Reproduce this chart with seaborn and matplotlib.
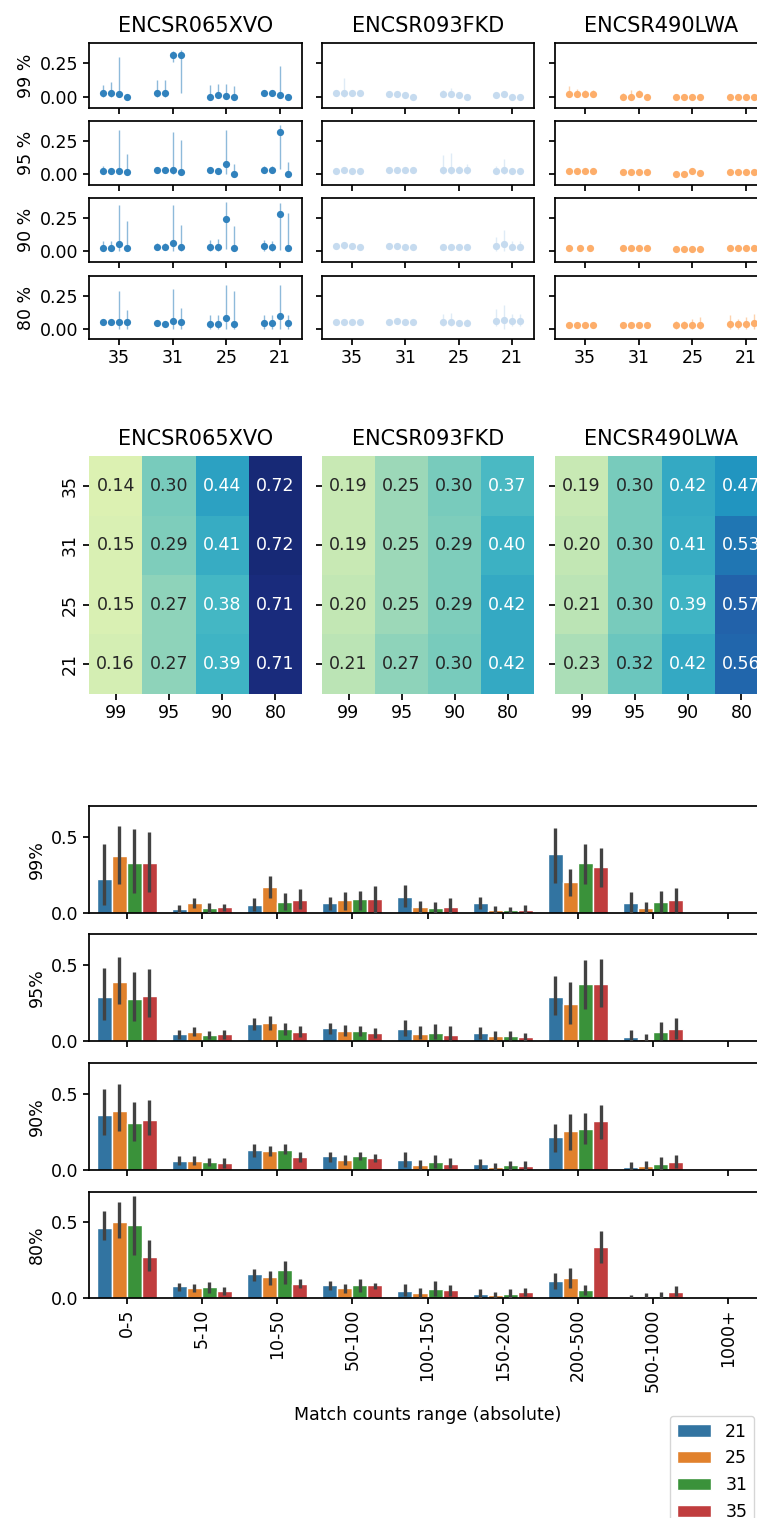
import numpy as np
import pandas as pd
import matplotlib
matplotlib.use("Agg")
import matplotlib.pyplot as plt
import seaborn as sns

W, H = 757, 1518

datasets = ["ENCSR065XVO", "ENCSR093FKD", "ENCSR490LWA"]
ds_colors = ["#3182bd", "#c6dbef", "#fdae6b"]
kmers = ["35", "31", "25", "21"]
percents = ["99", "95", "90", "80"]
nan = np.nan

# ---- top: per percent row -> per kmer group -> 4 replicate points
pts_065 = [
    [[0.03, 0.03, 0.02, 0.003], [0.03, 0.03, 0.31, 0.31], [0.0, 0.018, 0.008, 0.003], [0.033, 0.03, 0.018, 0.003]],
    [[0.028, 0.028, 0.028, 0.015], [0.03, 0.03, 0.03, 0.015], [0.03, 0.028, 0.08, 0.005], [0.035, 0.033, 0.315, 0.005]],
    [[0.028, 0.028, 0.055, 0.028], [0.03, 0.03, 0.06, 0.03], [0.033, 0.033, 0.24, 0.023], [0.04, 0.035, 0.283, 0.028]],
    [[0.048, 0.048, 0.053, 0.053], [0.04, 0.035, 0.06, 0.048], [0.035, 0.035, 0.08, 0.035], [0.043, 0.04, 0.098, 0.04]],
]
hi_065 = [
    [[0.088, 0.11, 0.30, 0.01], [0.13, 0.125, 0.34, 0.35], [0.088, 0.10, 0.10, 0.08], [0.05, 0.045, 0.23, 0.01]],
    [[0.06, 0.05, 0.33, 0.15], [0.05, 0.05, 0.32, 0.26], [0.05, 0.05, 0.335, 0.078], [0.06, 0.06, 0.37, 0.09]],
    [[0.075, 0.075, 0.345, 0.225], [0.062, 0.062, 0.35, 0.195], [0.088, 0.095, 0.37, 0.19], [0.083, 0.078, 0.36, 0.29]],
    [[0.06, 0.06, 0.285, 0.14], [0.06, 0.06, 0.30, 0.16], [0.10, 0.10, 0.335, 0.285], [0.105, 0.10, 0.335, 0.10]],
]
lo_065 = [
    [[0.0, 0.0, 0.0, 0.0], [0.0, 0.0, 0.26, 0.03], [0.0, 0.0, 0.0, 0.0], [0.01, 0.01, 0.0, 0.0]],
    [[0.0, 0.01, 0.0, 0.0], [0.01, 0.01, 0.0, 0.0], [0.01, 0.01, 0.0, 0.0], [0.01, 0.01, 0.04, 0.0]],
    [[0.0, 0.0, 0.0, 0.0], [0.01, 0.01, 0.0, 0.0], [0.0, 0.0, 0.02, 0.0], [0.0, 0.0, 0.01, 0.0]],
    [[0.03, 0.03, 0.0, 0.0], [0.02, 0.02, 0.0, 0.0], [0.0, 0.0, 0.0, 0.0], [0.0, 0.0, 0.0, 0.0]],
]

pts_093 = [
    [[0.03, 0.03, 0.03, 0.03], [0.02, 0.02, 0.018, 0.0], [0.025, 0.025, 0.018, 0.0], [0.013, 0.02, 0.0, 0.0]],
    [[0.028, 0.033, 0.028, 0.028], [0.03, 0.03, 0.03, 0.03], [0.035, 0.035, 0.033, 0.033], [0.028, 0.035, 0.028, 0.028]],
    [[0.04, 0.045, 0.038, 0.035], [0.038, 0.04, 0.033, 0.033], [0.033, 0.033, 0.03, 0.033], [0.04, 0.055, 0.033, 0.033]],
    [[0.053, 0.053, 0.053, 0.053], [0.053, 0.055, 0.048, 0.048], [0.048, 0.053, 0.04, 0.04], [0.06, 0.065, 0.055, 0.055]],
]
hi_093 = [
    [[0.05, 0.14, 0.05, 0.04], [0.04, 0.04, 0.03, 0.01], [0.05, 0.07, 0.03, 0.01], [0.03, 0.04, 0.01, 0.01]],
    [[0.05, 0.05, 0.04, 0.04], [0.05, 0.05, 0.04, 0.04], [0.145, 0.16, 0.065, 0.08], [0.06, 0.115, 0.04, 0.04]],
    [[0.06, 0.06, 0.05, 0.05], [0.06, 0.065, 0.05, 0.05], [0.05, 0.05, 0.045, 0.05], [0.11, 0.16, 0.08, 0.08]],
    [[0.065, 0.065, 0.065, 0.065], [0.065, 0.07, 0.06, 0.06], [0.11, 0.12, 0.06, 0.07], [0.15, 0.18, 0.11, 0.11]],
]
lo_093 = [
    [[0.01, 0.0, 0.01, 0.02], [0.0, 0.0, 0.0, 0.0], [0.0, 0.0, 0.0, 0.0], [0.0, 0.0, 0.0, 0.0]],
    [[0.01, 0.01, 0.01, 0.01], [0.01, 0.01, 0.01, 0.01], [0.0, 0.0, 0.01, 0.0], [0.01, 0.0, 0.01, 0.01]],
    [[0.02, 0.02, 0.02, 0.02], [0.02, 0.02, 0.02, 0.02], [0.02, 0.02, 0.02, 0.02], [0.0, 0.0, 0.01, 0.01]],
    [[0.04, 0.04, 0.04, 0.04], [0.04, 0.04, 0.03, 0.03], [0.02, 0.02, 0.02, 0.02], [0.02, 0.0, 0.02, 0.02]],
]

pts_490 = [
    [[0.025, 0.025, 0.02, 0.02], [0.0, 0.003, 0.02, 0.0], [0.0, 0.0, 0.0, 0.0], [0.0, 0.0, 0.0, 0.0]],
    [[0.023, 0.023, 0.023, 0.023], [0.02, 0.02, 0.02, 0.02], [0.0, 0.0, 0.028, 0.013], [0.015, 0.015, 0.02, 0.02]],
    [[0.028, 0.028, 0.028, nan], [0.028, 0.028, 0.028, 0.028], [0.015, 0.015, 0.02, 0.02], [0.028, 0.028, 0.028, 0.028]],
    [[0.028, 0.028, 0.028, 0.028], [0.03, 0.03, 0.03, 0.03], [0.03, 0.03, 0.03, 0.03], [0.035, 0.035, 0.035, 0.04]],
]
hi_490 = [
    [[0.08, 0.06, 0.05, 0.05], [0.03, 0.05, 0.05, 0.02], [0.01, 0.01, 0.01, 0.01], [0.01, 0.01, 0.01, 0.01]],
    [[0.04, 0.04, 0.04, 0.04], [0.035, 0.035, 0.035, 0.035], [0.01, 0.01, 0.045, 0.03], [0.03, 0.03, 0.035, 0.035]],
    [[0.04, 0.04, 0.04, nan], [0.045, 0.045, 0.045, 0.045], [0.03, 0.03, 0.035, 0.035], [0.05, 0.05, 0.05, 0.05]],
    [[0.04, 0.04, 0.04, 0.04], [0.045, 0.045, 0.045, 0.045], [0.06, 0.06, 0.07, 0.085], [0.10, 0.07, 0.09, 0.11]],
]
lo_490 = [
    [[0.01, 0.01, 0.01, 0.01], [0.0, 0.0, 0.0, 0.0], [0.0, 0.0, 0.0, 0.0], [0.0, 0.0, 0.0, 0.0]],
    [[0.01, 0.01, 0.01, 0.01], [0.01, 0.01, 0.01, 0.01], [0.0, 0.0, 0.01, 0.0], [0.0, 0.0, 0.01, 0.01]],
    [[0.015, 0.015, 0.015, nan], [0.015, 0.015, 0.015, 0.015], [0.0, 0.0, 0.01, 0.01], [0.01, 0.01, 0.01, 0.01]],
    [[0.015, 0.015, 0.015, 0.015], [0.015, 0.015, 0.015, 0.015], [0.0, 0.0, 0.0, 0.0], [0.0, 0.0, 0.0, 0.0]],
]

# ---- middle heatmaps: rows kmers (35..21), columns percents (99..80)
heat_065 = [[0.14, 0.30, 0.44, 0.72], [0.15, 0.29, 0.41, 0.72], [0.15, 0.27, 0.38, 0.71], [0.16, 0.27, 0.39, 0.71]]
heat_093 = [[0.19, 0.25, 0.30, 0.37], [0.19, 0.25, 0.29, 0.40], [0.20, 0.25, 0.29, 0.42], [0.21, 0.27, 0.30, 0.42]]
heat_490 = [[0.19, 0.30, 0.42, 0.47], [0.20, 0.30, 0.41, 0.53], [0.21, 0.30, 0.39, 0.57], [0.23, 0.32, 0.42, 0.56]]

# ---- bottom bars: ranges x hue (21, 25, 31, 35)
ranges = ["0-5", "5-10", "10-50", "50-100", "100-150", "150-200", "200-500", "500-1000", "1000+"]
hue_k = ["21", "25", "31", "35"]

bar_99 = [[0.224, 0.372, 0.330, 0.324], [0.024, 0.067, 0.035, 0.037], [0.052, 0.167, 0.074, 0.085],
          [0.063, 0.087, 0.093, 0.093], [0.107, 0.037, 0.035, 0.037], [0.063, 0.017, 0.017, 0.017],
          [0.385, 0.202, 0.328, 0.298], [0.065, 0.030, 0.070, 0.087]]
lo_99 = [[0.054, 0.191, 0.130, 0.137], [0.0, 0.035, 0.0, 0.011], [0.011, 0.096, 0.017, 0.024],
         [0.020, 0.017, 0.017, 0.002], [0.039, 0.002, 0.002, 0.002], [0.026, 0.0, 0.0, 0.0],
         [0.196, 0.109, 0.187, 0.167], [0.0, 0.0, 0.009, 0.009]]
hi_99 = [[0.452, 0.572, 0.552, 0.528], [0.054, 0.098, 0.067, 0.061], [0.100, 0.243, 0.130, 0.157],
         [0.102, 0.139, 0.146, 0.174], [0.185, 0.076, 0.074, 0.098], [0.102, 0.046, 0.041, 0.054],
         [0.554, 0.291, 0.454, 0.426], [0.139, 0.072, 0.143, 0.165]]

bar_95 = [[0.291, 0.385, 0.274, 0.293], [0.043, 0.061, 0.039, 0.046], [0.109, 0.117, 0.078, 0.059],
          [0.083, 0.067, 0.063, 0.050], [0.078, 0.048, 0.050, 0.039], [0.050, 0.030, 0.030, 0.024],
          [0.291, 0.241, 0.370, 0.376], [0.024, 0.015, 0.061, 0.078]]
lo_95 = [[0.137, 0.239, 0.130, 0.154], [0.015, 0.035, 0.013, 0.015], [0.070, 0.074, 0.037, 0.026],
         [0.048, 0.033, 0.035, 0.017], [0.035, 0.013, 0.011, 0.007], [0.015, 0.004, 0.004, 0.002],
         [0.167, 0.113, 0.207, 0.220], [0.0, 0.0, 0.007, 0.013]]
hi_95 = [[0.478, 0.550, 0.454, 0.470], [0.070, 0.093, 0.065, 0.072], [0.148, 0.161, 0.117, 0.098],
         [0.115, 0.104, 0.098, 0.083], [0.137, 0.100, 0.109, 0.096], [0.089, 0.063, 0.063, 0.054],
         [0.422, 0.383, 0.528, 0.539], [0.070, 0.046, 0.126, 0.152]]

bar_90 = [[0.361, 0.387, 0.305, 0.329], [0.058, 0.058, 0.050, 0.045], [0.134, 0.126, 0.134, 0.084],
          [0.089, 0.065, 0.091, 0.076], [0.063, 0.035, 0.054, 0.041], [0.037, 0.022, 0.030, 0.028],
          [0.216, 0.258, 0.271, 0.320], [0.017, 0.024, 0.039, 0.054]]
lo_90 = [[0.227, 0.258, 0.190, 0.227], [0.030, 0.032, 0.024, 0.015], [0.084, 0.091, 0.102, 0.052],
         [0.050, 0.032, 0.063, 0.050], [0.022, 0.004, 0.015, 0.011], [0.006, 0.0, 0.002, 0.002],
         [0.119, 0.128, 0.169, 0.206], [0.0, 0.0, 0.0, 0.015]]
hi_90 = [[0.530, 0.565, 0.444, 0.455], [0.089, 0.089, 0.078, 0.076], [0.173, 0.160, 0.167, 0.117],
         [0.121, 0.097, 0.119, 0.102], [0.115, 0.063, 0.097, 0.076], [0.069, 0.043, 0.061, 0.056],
         [0.301, 0.368, 0.374, 0.424], [0.054, 0.058, 0.084, 0.100]]

bar_80 = [[0.459, 0.504, 0.480, 0.272], [0.076, 0.067, 0.070, 0.046], [0.157, 0.137, 0.183, 0.093],
          [0.083, 0.063, 0.083, 0.085], [0.048, 0.033, 0.059, 0.052], [0.028, 0.020, 0.028, 0.039],
          [0.115, 0.135, 0.052, 0.337], [0.0, 0.009, 0.011, 0.041]]
lo_80 = [[0.385, 0.396, 0.283, 0.178], [0.048, 0.041, 0.035, 0.022], [0.115, 0.089, 0.091, 0.065],
         [0.052, 0.035, 0.037, 0.059], [0.011, 0.004, 0.011, 0.015], [0.0, 0.0, 0.0, 0.013],
         [0.061, 0.065, 0.022, 0.230], [0.0, 0.0, 0.0, 0.011]]
hi_80 = [[0.574, 0.637, 0.676, 0.385], [0.100, 0.093, 0.107, 0.072], [0.189, 0.176, 0.243, 0.124],
         [0.113, 0.091, 0.124, 0.102], [0.091, 0.065, 0.109, 0.087], [0.057, 0.041, 0.061, 0.065],
         [0.167, 0.200, 0.087, 0.443], [0.022, 0.035, 0.037, 0.078]]


sns.set_theme(style="ticks")
plt.rcParams["font.family"] = ["DejaVu Sans"]
plt.rcParams["font.size"] = 12.5
plt.rcParams["axes.labelsize"] = 12.5
plt.rcParams["xtick.labelsize"] = 12.5
plt.rcParams["ytick.labelsize"] = 12.5
plt.rcParams["axes.titlesize"] = 15
plt.rcParams["axes.linewidth"] = 1.25
plt.rcParams["xtick.major.size"] = 4
plt.rcParams["ytick.major.size"] = 4
for key in ["axes.edgecolor", "text.color", "axes.labelcolor", "xtick.color", "ytick.color"]:
    plt.rcParams[key] = "black"

fig = plt.figure(figsize=(W / 100, H / 100), dpi=100)


def box(x0, x1, y0, y1):
    return [x0 / W, 1 - y1 / H, (x1 - x0) / W, (y1 - y0) / H]


# ---------------- top: point panels ----------------
top_x = [(89, 302), (322, 534), (555, 768)]
top_y = [(43, 108), (121, 185), (198, 262), (276, 339)]
top_data = [(pts_065, lo_065, hi_065), (pts_093, lo_093, hi_093), (pts_490, lo_490, hi_490)]

for c in range(3):
    pts, lo, hi = top_data[c]
    for r in range(4):
        ax = fig.add_axes(box(*top_x[c], *top_y[r]))
        for g in range(4):
            p = np.array(pts[r][g], dtype=float)
            ok = ~np.isnan(p)
            n = ok.sum()
            offs = np.linspace(-0.3, 0.3, n + 1)[:n]
            xs = g + offs
            ax.vlines(xs, np.array(lo[r][g])[ok], np.array(hi[r][g])[ok],
                      color=ds_colors[c], alpha=0.55, lw=1.0, zorder=1)
            ax.plot(xs, p[ok], "o", color=ds_colors[c], ms=5.2, mew=0, zorder=2)
        ax.set_xlim(-0.56, 3.41)
        ax.set_ylim(-0.08, 0.40)
        ax.set_xticks(range(4))
        ax.set_yticks([0, 0.25])
        ax.set_yticklabels(["0.00", "0.25"])
        if r == 3:
            ax.set_xticklabels(kmers)
        else:
            ax.set_xticklabels([])
        if c == 0:
            ax.set_ylabel(percents[r] + " %")
        else:
            ax.set_yticklabels([])
        if r == 0:
            ax.set_title(datasets[c], pad=8)

# ---------------- middle: heatmaps ----------------
heats = [heat_065, heat_093, heat_490]
for c in range(3):
    ax = fig.add_axes(box(*top_x[c], 456, 694))
    df = pd.DataFrame(heats[c], index=kmers, columns=percents)
    sns.heatmap(df, annot=True, fmt=".2f", cmap="YlGnBu", vmin=0, vmax=0.77,
                cbar=False, ax=ax, annot_kws={"size": 12.5})
    ax.set_title(datasets[c], pad=8)
    ax.tick_params(left=True, bottom=True)
    if c == 0:
        ax.set_yticklabels(kmers, rotation=90, va="center")
    else:
        ax.set_yticklabels([])
    ax.set_xticklabels(percents, rotation=0)

# ---------------- bottom: bar panels ----------------
bar_y = [(806, 913), (934, 1041), (1063, 1170), (1192, 1298)]
bar_sets = [("99%", bar_99, lo_99, hi_99), ("95%", bar_95, lo_95, hi_95),
            ("90%", bar_90, lo_90, hi_90), ("80%", bar_80, lo_80, hi_80)]

for r, (lab, vals, lo, hi) in enumerate(bar_sets):
    ax = fig.add_axes(box(89, 766, *bar_y[r]))
    rows = []
    for i, v in enumerate(vals):
        for j, k in enumerate(hue_k):
            rows.append({"range": ranges[i], "k": k, "frac": v[j]})
    df = pd.DataFrame(rows)
    sns.barplot(data=df, x="range", y="frac", hue="k", order=ranges, hue_order=hue_k,
                palette="tab10", errorbar=None, ax=ax, legend=(r == 3))
    offs = np.array([-0.3, -0.1, 0.1, 0.3])
    for i in range(len(vals)):
        ax.vlines(i + offs, lo[i], hi[i], color="#424242", lw=2.4, zorder=3)
    ax.set_ylim(0, 0.7)
    ax.set_xlim(-0.5, 8.5)
    ax.set_yticks([0, 0.5])
    ax.set_yticklabels(["0.0", "0.5"])
    ax.set_ylabel(lab)
    if r == 3:
        ax.set_xticklabels(ranges, rotation=90)
        ax.set_xlabel("Match counts range (absolute)", labelpad=10)
        h, l = ax.get_legend_handles_labels()
        ax.get_legend().remove()
        fig.legend(h, l, loc="upper left", bbox_to_anchor=(661 / W, 1 - 1407 / H),
                   fontsize=12.5, frameon=True)
    else:
        ax.set_xticklabels([])
        ax.set_xlabel("")

fig.savefig("out.png", dpi=100)
